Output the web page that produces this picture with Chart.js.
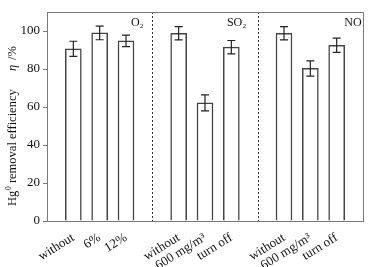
<!DOCTYPE html>
<html>
<head>
<meta charset="utf-8">
<script src="https://cdn.jsdelivr.net/npm/chart.js@4"></script>
<style>
  html, body { margin: 0; padding: 0; background: #fff; }
  #wrap { width: 383px; height: 267px; }
</style>
</head>
<body>
<div id="wrap"><canvas id="c"></canvas></div>
<script>
// categories: blanks at 0, 4, 8, 12 act as gaps / group separators
const labels = ['', 'without', '6%', '12%', '', 'without', '600 mg/m³', 'turn off', '', 'without', '600 mg/m³', 'turn off', ''];
const efficiency = [null, 90.6, 99.0, 94.8, null, 98.8, 62.2, 91.5, null, 98.8, 80.3, 92.5, null];
const errors = [0, 4.0, 3.6, 3.0, 0, 3.5, 4.2, 3.5, 0, 3.5, 4.0, 3.8, 0];
const groupNames = ['O₂', 'SO₂', 'NO'];
const separators = [4, 8];

const SERIF = "'Liberation Serif', 'Times New Roman', serif";
const AXIS_COLOR = '#7a7a7a';
const BAR_EDGE = '#444';

const decorations = {
  id: 'decorations',
  afterDatasetsDraw(chart) {
    const { ctx, chartArea: a, scales: { x, y } } = chart;
    ctx.save();
    // dotted separators
    ctx.strokeStyle = '#333';
    ctx.lineWidth = 1;
    ctx.setLineDash([2, 2]);
    separators.forEach((s) => {
      const px = Math.round(x.getPixelForValue(s)) + 0.5;
      ctx.beginPath();
      ctx.moveTo(px, a.top);
      ctx.lineTo(px, a.bottom);
      ctx.stroke();
    });
    ctx.setLineDash([]);
    // error bars
    ctx.strokeStyle = '#222';
    ctx.lineWidth = 1.2;
    efficiency.forEach((v, i) => {
      if (v === null) return;
      const px = x.getPixelForValue(i);
      const hi = y.getPixelForValue(v + errors[i]);
      const lo = y.getPixelForValue(v - errors[i]);
      ctx.beginPath();
      ctx.moveTo(px, hi); ctx.lineTo(px, lo);
      ctx.moveTo(px - 4, hi); ctx.lineTo(px + 4, hi);
      ctx.moveTo(px - 4, lo); ctx.lineTo(px + 4, lo);
      ctx.stroke();
    });
    // frame top / right
    ctx.strokeStyle = AXIS_COLOR;
    ctx.lineWidth = 1;
    ctx.beginPath();
    ctx.moveTo(a.left, a.top + 0.5);
    ctx.lineTo(a.right + 0.5, a.top + 0.5);
    ctx.lineTo(a.right + 0.5, a.bottom);
    ctx.stroke();
    // group names
    ctx.fillStyle = '#111';
    ctx.font = `12px ${SERIF}`;
    ctx.textBaseline = 'middle';
    ctx.textAlign = 'center';
    ctx.fillText(groupNames[0], x.getPixelForValue(4) - 15, a.top + 11);
    ctx.fillText(groupNames[1], x.getPixelForValue(8) - 21, a.top + 11);
    ctx.fillText(groupNames[2], a.right - 10, a.top + 11);
    // y title: Hg⁰ removal efficiency   η /%
    ctx.translate(13, 0);
    ctx.rotate(-Math.PI / 2);
    ctx.textAlign = 'left';
    let pos = -206;
    ctx.font = `12.5px ${SERIF}`;
    ctx.fillText('Hg', pos, 0);
    pos += ctx.measureText('Hg').width;
    ctx.font = `8px ${SERIF}`;
    ctx.fillText('0', pos + 0.5, -4);
    pos += ctx.measureText('0').width + 0.5;
    ctx.font = `12.5px ${SERIF}`;
    ctx.fillText(' removal efficiency', pos, 0);
    ctx.font = `italic 12.5px ${SERIF}`;
    ctx.fillText('η', -71, 0);
    ctx.font = `12.5px ${SERIF}`;
    ctx.fillText(' /%', -63, 0);
    ctx.restore();
  },
};

new Chart(document.getElementById('c'), {
  type: 'bar',
  data: {
    labels,
    datasets: [{
      data: efficiency,
      backgroundColor: '#fff',
      borderColor: BAR_EDGE,
      borderWidth: 1.5,
      barThickness: 16,
    }],
  },
  options: {
    responsive: true,
    maintainAspectRatio: false,
    animation: false,
    layout: { padding: { top: 12, right: 20, left: 0, bottom: 0 } },
    plugins: { legend: { display: false }, tooltip: { enabled: false } },
    scales: {
      x: {
        offset: false,
        grid: { display: false },
        border: { display: true, color: AXIS_COLOR, width: 1 },
        ticks: {
          color: '#111',
          autoSkip: false,
          maxRotation: 32,
          minRotation: 32,
          padding: 1,
          font: { family: SERIF, size: 13 },
        },
        afterFit: (s) => { s.height = 46; },
      },
      y: {
        min: 0,
        max: 110,
        grid: { display: true, drawOnChartArea: false, tickLength: 4, color: AXIS_COLOR },
        border: { display: true, color: AXIS_COLOR, width: 1 },
        ticks: {
          stepSize: 20,
          color: '#111',
          padding: 3,
          font: { family: SERIF, size: 13 },
        },
        afterBuildTicks: (s) => { s.ticks = s.ticks.filter((t) => t.value <= 100); },
        afterFit: (s) => { s.width = 47; },
      },
    },
  },
  plugins: [decorations],
});
</script>
</body>
</html>
